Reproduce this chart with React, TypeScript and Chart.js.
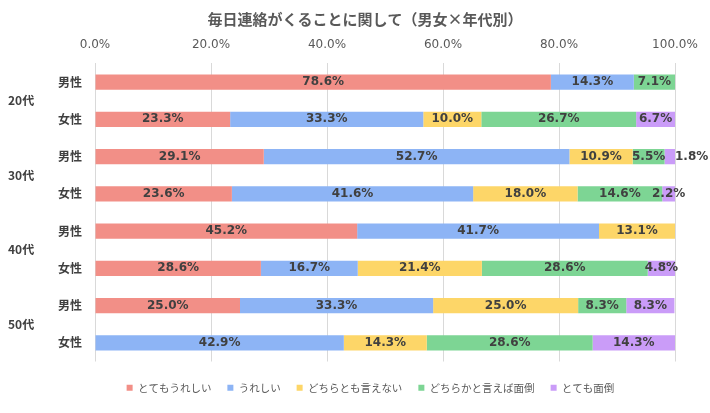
import { useEffect, useRef } from 'react';
import { Chart, registerables } from 'chart.js';

Chart.register(...registerables);

const chartTitle = '毎日連絡がくることに関して（男女×年代別）';
const rowLabels = ['男性', '女性', '男性', '女性', '男性', '女性', '男性', '女性'];
const groupLabels = ['20代', '30代', '40代', '50代'];
const seriesNames = ['とてもうれしい', 'うれしい', 'どちらとも言えない', 'どちらかと言えば面倒', 'とても面倒'];
const veryHappy = [78.6, 23.3, 29.1, 23.6, 45.2, 28.6, 25.0, 0];
const happy = [14.3, 33.3, 52.7, 41.6, 41.7, 16.7, 33.3, 42.9];
const neutral = [0, 10.0, 10.9, 18.0, 13.1, 21.4, 25.0, 14.3];
const ratherBother = [7.1, 26.7, 5.5, 14.6, 0, 28.6, 8.3, 28.6];
const veryBother = [0, 6.7, 1.8, 2.2, 0, 4.8, 8.3, 14.3];
const xMin = 0;
const xMax = 100;
const xStep = 20;
const seriesColors = ['#F28F87', '#8DB4F5', '#FDD668', '#7DD594', '#CA9CF8'];

const NUM_FONT = '"DejaVu Sans", "Noto Sans CJK JP", sans-serif';
const JP_FONT = '"Noto Sans CJK JP", "DejaVu Sans", sans-serif';

const barValuesPlugin = {
  id: 'barValues',
  afterLayout(chart: any) {
    // centre title and legend a little to the right, like the original
    const t = chart.titleBlock;
    if (t) t.left = t.left + 47;
    const lg = chart.legend;
    if (lg) {
      lg.left += 29;
      lg.right += 29;
    }
  },
  afterDatasetsDraw(chart: any) {
    const ctx = chart.ctx;
    ctx.save();
    ctx.font = `bold 12px ${NUM_FONT}`;
    ctx.fillStyle = '#404040';
    ctx.textBaseline = 'middle';
    ctx.textAlign = 'left';
    const n = chart.data.labels.length;
    for (let i = 0; i < n; i++) {
      let prevRight = -Infinity;
      chart.data.datasets.forEach((ds: any, di: number) => {
        const v = ds.data[i];
        if (!v) return;
        const el = chart.getDatasetMeta(di).data[i];
        const text = v.toFixed(1) + '%';
        const w = ctx.measureText(text).width;
        const left = Math.min(el.x, el.base);
        const right = Math.min(Math.max(el.x, el.base), chart.chartArea.right);
        let start = (left + right) / 2 - w / 2;
        if (start < prevRight) start = right;
        ctx.fillText(text, start, el.y);
        prevRight = start + w;
      });
    }
    ctx.restore();
  },
};

export default function App() {
  const ref = useRef<HTMLCanvasElement>(null);
  useEffect(() => {
    if (!ref.current) return;
    const series = [veryHappy, happy, neutral, ratherBother, veryBother];
    const chart = new Chart(ref.current, {
      type: 'bar',
      data: {
        labels: rowLabels,
        datasets: series.map((d, i) => ({
          label: seriesNames[i],
          data: d,
          backgroundColor: seriesColors[i],
          borderWidth: 0,
          barPercentage: 0.41,
          categoryPercentage: 1,
          yAxisID: 'y',
        })),
      },
      options: {
        indexAxis: 'y',
        responsive: false,
        animation: false,
        devicePixelRatio: 1,
        layout: { padding: { left: 8, right: 35, top: 0, bottom: 10 } },
        scales: {
          x: {
            position: 'top',
            stacked: true,
            min: xMin,
            max: xMax,
            ticks: {
              stepSize: xStep,
              padding: 11,
              color: '#595959',
              font: { family: NUM_FONT, size: 12 },
              callback: (v: any) => Number(v).toFixed(1) + '%',
            },
            grid: { color: '#D9D9D9', lineWidth: 1, drawTicks: false },
            border: { display: false },
          },
          y: {
            stacked: true,
            weight: 0,
            grid: { display: false, drawTicks: false },
            border: { display: false },
            ticks: {
              padding: 13,
              color: '#404040',
              font: { family: JP_FONT, size: 12, weight: 'bold' },
            },
            afterFit: (s: any) => { s.width = 50; },
          },
          y2: {
            type: 'category',
            position: 'left',
            labels: groupLabels,
            offset: true,
            weight: 1,
            grid: { display: false, drawTicks: false },
            border: { display: false },
            ticks: {
              padding: 0,
              crossAlign: 'far',
              color: '#404040',
              font: { family: JP_FONT, size: 12, weight: 'bold' },
            },
            afterFit: (s: any) => { s.width = 37; },
          },
        },
        plugins: {
          title: {
            display: true,
            text: chartTitle,
            color: '#595959',
            font: { family: JP_FONT, size: 15, weight: 'bold', lineHeight: 1 },
            padding: { top: 12, bottom: 0 },
          },
          legend: {
            position: 'bottom',
            title: { display: true, text: '', padding: 0, font: { size: 5, lineHeight: 1 } },
            labels: {
              boxWidth: 6,
              boxHeight: 6,
              padding: 16,
              color: '#595959',
              font: { family: JP_FONT, size: 10.5 },
            },
          },
          tooltip: { enabled: false },
        },
      },
      plugins: [barValuesPlugin],
    } as any);
    return () => chart.destroy();
  }, []);
  return (
    <div style={{ position: 'absolute', left: 0, top: 0, width: 710, height: 413, background: '#fff' }}>
      <canvas ref={ref} width={710} height={413} />
    </div>
  );
}
